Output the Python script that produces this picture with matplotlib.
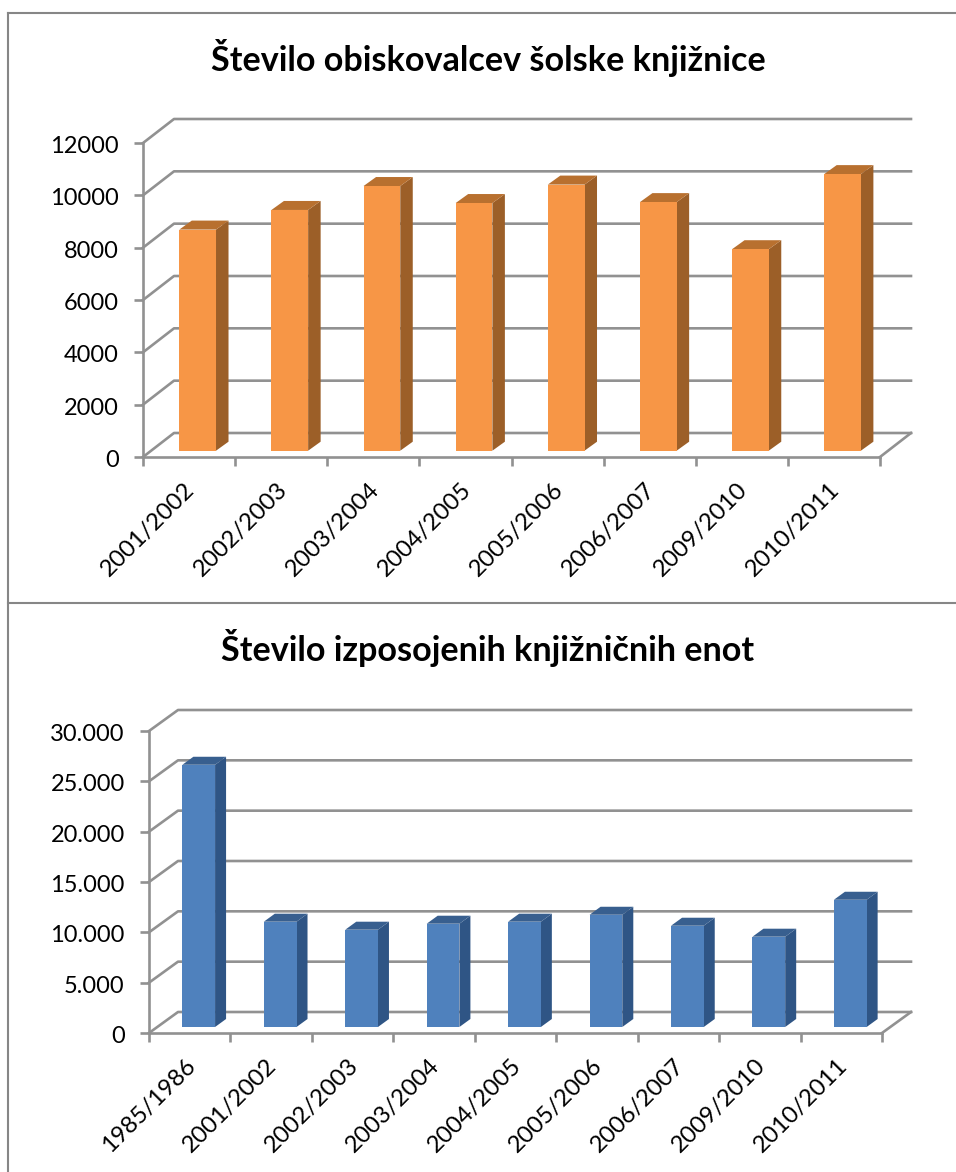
import matplotlib
matplotlib.use("Agg")
import matplotlib.pyplot as plt
from matplotlib.lines import Line2D
from matplotlib.transforms import Affine2D

plt.rcParams['font.family'] = ['Lato', 'DejaVu Sans']

W, H = 956, 1172

title_a = "Število obiskovalcev šolske knjižnice"
cats_a = ["2001/2002", "2002/2003", "2003/2004", "2004/2005", "2005/2006", "2006/2007", "2009/2010", "2010/2011"]
vals_a = [8450, 9200, 10115, 9465, 10170, 9500, 7700, 10570]
ticks_a = [0, 2000, 4000, 6000, 8000, 10000, 12000]
ticklabels_a = ["0", "2000", "4000", "6000", "8000", "10000", "12000"]

title_b = "Število izposojenih knjižničnih enot"
cats_b = ["1985/1986", "2001/2002", "2002/2003", "2003/2004", "2004/2005", "2005/2006", "2006/2007", "2009/2010", "2010/2011"]
vals_b = [26050, 10460, 9665, 10260, 10460, 11150, 10060, 8970, 12640]
ticks_b = [0, 5000, 10000, 15000, 20000, 25000, 30000]
ticklabels_b = ["0", "5.000", "10.000", "15.000", "20.000", "25.000", "30.000"]

GRID = "#919191"
fig = plt.figure(figsize=(W / 100, H / 100), dpi=100)


def chart(cats, vals, ticks, labels, title, box, back, front_off, depth, bar_px, colors, title_y):
    left, right, top, bottom = box
    ax = fig.add_axes([left / W, 1 - bottom / H, (right - left) / W, (bottom - top) / H])
    ax.patch.set_alpha(0)
    n = len(cats)
    ymax = ticks[-1]
    ax.set_xlim(0, n)
    ax.set_ylim(0, ymax)
    ux = n / (right - left)
    uy = ymax / (bottom - top)
    bx, by = back[0] * ux, back[1] * uy
    fx, fy = front_off[0] * ux, front_off[1] * uy
    dx, dy = depth[0] * ux, depth[1] * uy
    width = bar_px * ux
    lw = 1.9
    kw = dict(color=GRID, lw=lw, clip_on=False, zorder=1, solid_capstyle="projecting")
    for t in ticks:
        ax.plot([0, bx, n + bx], [t, t + by, t + by], **kw)
    ax.plot([n, n + bx], [0, by], **kw)
    # bars
    front, side, topc = colors
    for i, v in enumerate(vals):
        x0 = i + 0.5 - width / 2 + fx
        x1 = x0 + width
        y0 = fy
        y1 = fy + v
        ax.fill([x1, x1 + dx, x1 + dx, x1], [y0, y0 + dy, y1 + dy, y1], color=side, lw=0, zorder=3, clip_on=False)
        ax.fill([x0, x0 + dx, x1 + dx, x1], [y1, y1 + dy, y1 + dy, y1], color=topc, lw=0, zorder=3, clip_on=False)
    ax.bar([i + 0.5 + fx for i in range(n)], vals, width=width, bottom=fy, color=front, lw=0, zorder=4, clip_on=False)
    for s in ("top", "right"):
        ax.spines[s].set_visible(False)
    for s in ("left", "bottom"):
        ax.spines[s].set_color(GRID)
        ax.spines[s].set_linewidth(lw)
    ax.set_yticks(ticks)
    ax.set_yticklabels(labels, fontsize=17)
    ax.tick_params(axis="y", length=6.5, width=lw, color=GRID, pad=11)
    ax.set_xticks(range(n + 1))
    ax.set_xticklabels([])
    ax.set_xticks([i + 0.5 for i in range(n)], minor=True)
    ax.set_xticklabels(cats, minor=True, rotation=45, ha="right", rotation_mode="anchor", fontsize=17.3)
    ax.tick_params(axis="x", which="major", length=6.5, width=lw, color=GRID)
    ax.tick_params(axis="x", which="minor", length=0, pad=14)
    for lab in ax.get_xticklabels(minor=True):
        lab.set_transform(lab.get_transform() + Affine2D().translate(-5, -2))
    for lab in ax.get_yticklabels():
        lab.set_transform(lab.get_transform() + Affine2D().translate(0, -1.5))
    fig.text(488 / W, 1 - title_y / H, title, fontsize=24.6, fontweight="bold", ha="center", va="center")


chart(cats_a, vals_a, ticks_a, ticklabels_a, title_a, (143, 880, 143, 457), (31, 24), (8.6, 6.3),
      (12.5, 9), 36.7, ("#f79646", "#9c5f28", "#b8702f"), 58)
chart(cats_b, vals_b, ticks_b, ticklabels_b, title_b, (149, 882, 731, 1033), (29, 21), (9, 6),
      (11, 8), 32.7, ("#4f81bd", "#2f5585", "#385f8f"), 648)

# frame of the two pasted charts
for xs, ys in (([8, 8], [13, 1172]), ([8, 956], [13, 13]), ([8, 956], [603, 603])):
    fig.add_artist(Line2D([x / W for x in xs], [1 - y / H for y in ys], color="#868686", lw=1.5))

fig.savefig("out.png", dpi=100)
